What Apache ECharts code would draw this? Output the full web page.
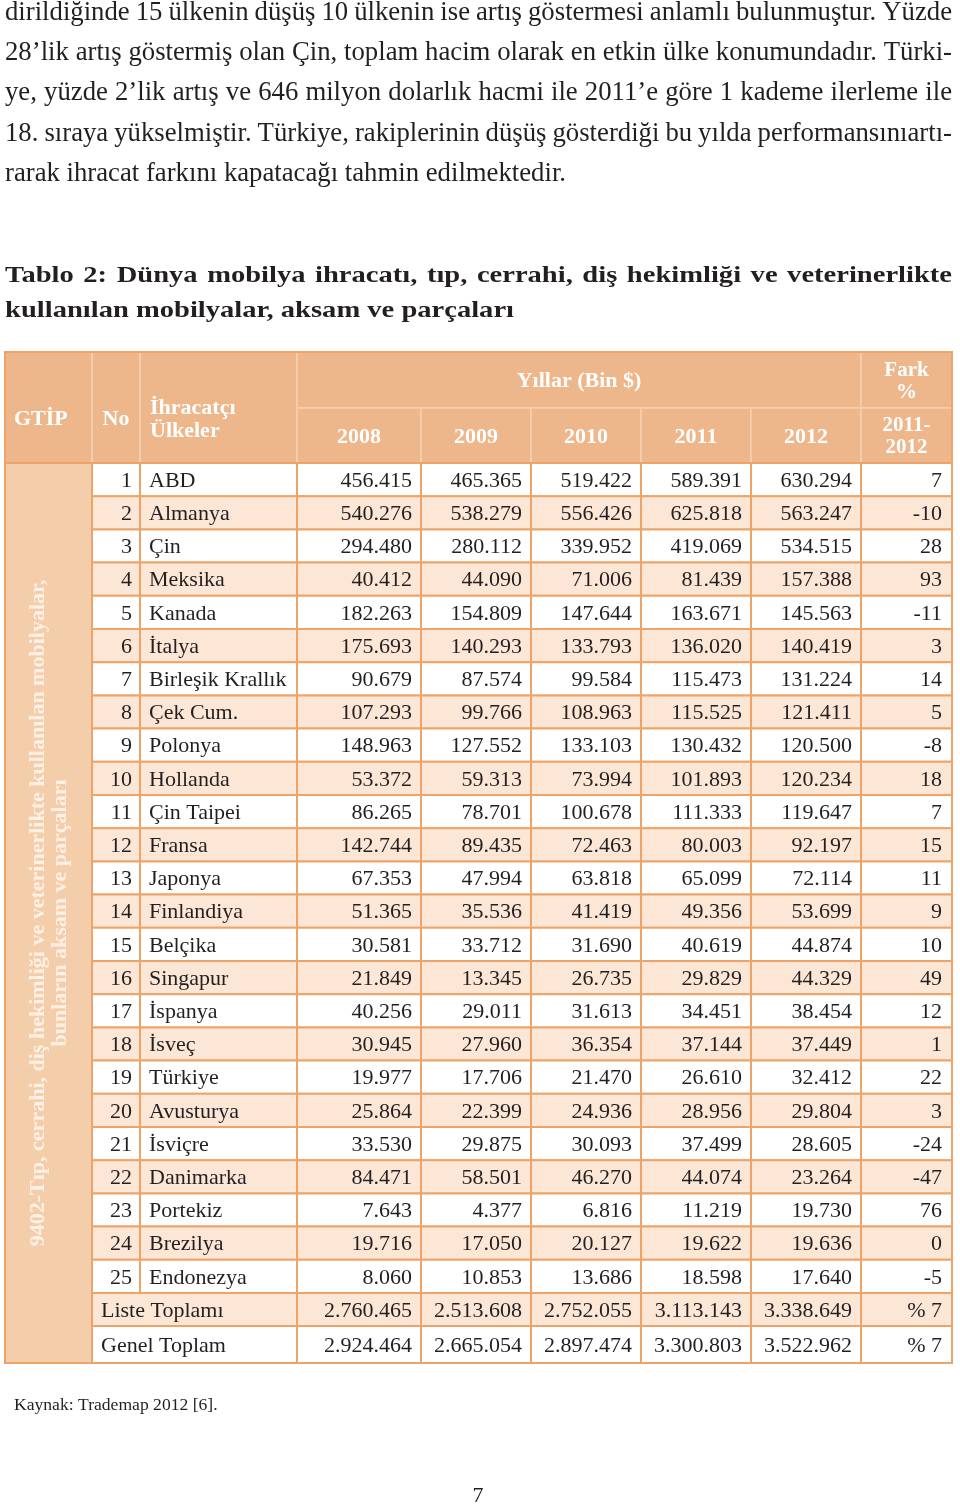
<!DOCTYPE html>
<html><head><meta charset="utf-8">
<script src="https://cdn.jsdelivr.net/npm/echarts@6/dist/echarts.min.js"></script>
<style>html,body{margin:0;padding:0;background:#fff}#c{width:960px;height:1507px}</style>
</head><body><div id="c"></div>
<script>
// ---------------- DATA ----------------
const countries = ['ABD','Almanya','Çin','Meksika','Kanada','İtalya','Birleşik Krallık','Çek Cum.','Polonya','Hollanda','Çin Taipei','Fransa','Japonya','Finlandiya','Belçika','Singapur','İspanya','İsveç','Türkiye','Avusturya','İsviçre','Danimarka','Portekiz','Brezilya','Endonezya'];
const years = ['2008','2009','2010','2011','2012'];
const v2008 = [456415,540276,294480,40412,182263,175693,90679,107293,148963,53372,86265,142744,67353,51365,30581,21849,40256,30945,19977,25864,33530,84471,7643,19716,8060];
const v2009 = [465365,538279,280112,44090,154809,140293,87574,99766,127552,59313,78701,89435,47994,35536,33712,13345,29011,27960,17706,22399,29875,58501,4377,17050,10853];
const v2010 = [519422,556426,339952,71006,147644,133793,99584,108963,133103,73994,100678,72463,63818,41419,31690,26735,31613,36354,21470,24936,30093,46270,6816,20127,13686];
const v2011 = [589391,625818,419069,81439,163671,136020,115473,115525,130432,101893,111333,80003,65099,49356,40619,29829,34451,37144,26610,28956,37499,44074,11219,19622,18598];
const v2012 = [630294,563247,534515,157388,145563,140419,131224,121411,120500,120234,119647,92197,72114,53699,44874,44329,38454,37449,32412,29804,28605,23264,19730,19636,17640];
const fark = [7,-10,28,93,-11,3,14,5,-8,18,7,15,11,9,10,49,12,1,22,3,-24,-47,76,0,-5];
const listeToplami = [2760465,2513608,2752055,3113143,3338649];
const listeFark = '% 7';
const genelToplam = [2924464,2665054,2897474,3300803,3522962];
const genelFark = '% 7';
const headerLabels = {gtip:'GTİP', no:'No', country:'İhracatçı\nÜlkeler', years:'Yıllar (Bin $)', fark:'Fark\n%', farkYears:'2011-\n2012'};
const gtipText = '9402-Tıp, cerrahi, diş hekimliği ve veterinerlikte kullanılan mobilyalar,\nbunların aksam ve parçaları';
const rowLabels = ['Liste Toplamı','Genel Toplam'];
const paragraphLines = [
 'dirildiğinde 15 ülkenin düşüş 10 ülkenin ise artış göstermesi anlamlı bulunmuştur. Yüzde',
 '28’lik artış göstermiş olan Çin, toplam hacim olarak en etkin ülke konumundadır. Türki-',
 'ye, yüzde 2’lik artış ve 646 milyon dolarlık hacmi ile 2011’e göre 1 kademe ilerleme ile',
 '18. sıraya yükselmiştir. Türkiye, rakiplerinin düşüş gösterdiği bu yılda performansınıartı-',
 'rarak ihracat farkını kapatacağı tahmin edilmektedir.'
];
const titleLines = [
 'Tablo 2: Dünya mobilya ihracatı, tıp, cerrahi, diş hekimliği ve veterinerlikte',
 'kullanılan mobilyalar, aksam ve parçaları'
];
const sourceText = 'Kaynak: Trademap 2012 [6].';
const pageNumber = '7';

// ---------------- LAYOUT / STYLE ----------------
const colW = [87,48,157,124,110,110,110,110,91];
const colX = [0]; colW.forEach((w,i)=>colX.push(colX[i]+w));
const H1 = 56, H2 = 55, RH = 33.2, LH = 33, GH = 37;
const bodyTop = H1 + H2;
const listeTop = bodyTop + RH*countries.length;
const genelTop = listeTop + LH;
const totalH = genelTop + GH;
const TOTW = colX[colX.length-1];

const C = {head:'#eeb78b', gtip:'#f4cdab', even:'#fce6d6', white:'#ffffff', line:'#eea469', headLine:'#f6cfb0', text:'#231f20'};
const SERIF = '"Liberation Serif","Times New Roman",serif';
const fBody = '22px ' + SERIF, fHead = 'bold 22px ' + SERIF, fHeadS = 'bold 21px ' + SERIF;

function fmt(n){ return String(n).replace(/\B(?=(\d{3})+(?!\d))/g,'.'); }

const cells = [];
function cell(c0,c1,y0,y1,o){ cells.push(Object.assign({x0:colX[c0],x1:colX[c1+1],y0:y0,y1:y1},o)); }

// header
const hs = {fill:C.head, stroke:C.headLine, lw:1.5, color:'#fff'};
cell(0,0,0,bodyTop,Object.assign({text:headerLabels.gtip,font:fHead,align:'left',pad:9,dy:12},hs));
cell(1,1,0,bodyTop,Object.assign({text:headerLabels.no,font:fHead,align:'center',dy:12},hs));
cell(2,2,0,bodyTop,Object.assign({text:headerLabels.country,font:fHead,align:'left',pad:10,dy:12,lh:23},hs));
cell(3,7,0,H1,Object.assign({text:headerLabels.years,font:fHead,align:'center',dy:1.5},hs));
years.forEach((y,i)=>cell(3+i,3+i,H1,bodyTop,Object.assign({text:y,font:fHead,align:'center',dy:1.5},hs)));
cell(8,8,0,H1,Object.assign({text:headerLabels.fark,font:fHeadS,align:'center',dy:1.5,lh:22},hs));
cell(8,8,H1,bodyTop,Object.assign({text:headerLabels.farkYears,font:fHeadS,align:'center',dy:1.5,lh:22},hs));

// GTIP body
cell(0,0,bodyTop,totalH,{fill:C.gtip,stroke:C.line,lw:2,text:gtipText,font:'bold 22px '+SERIF,color:'#fdf1e6',align:'center',rot:Math.PI/2,lh:22,dx:1});

// rows
const series = [v2008,v2009,v2010,v2011,v2012];
countries.forEach((name,i)=>{
  const y0 = bodyTop + i*RH, y1 = y0 + RH;
  const fill = i%2 ? C.even : C.white;
  const b = {fill:fill, stroke:C.line, lw:2, font:fBody, color:C.text, dy:1.5};
  cell(1,1,y0,y1,Object.assign({text:String(i+1),align:'right',pad:8},b));
  cell(2,2,y0,y1,Object.assign({text:name,align:'left',pad:9},b));
  series.forEach((arr,k)=>cell(3+k,3+k,y0,y1,Object.assign({text:fmt(arr[i]),align:'right',pad:9},b)));
  cell(8,8,y0,y1,Object.assign({text:String(fark[i]),align:'right',pad:10},b));
});
[[listeTop,listeTop+LH,C.even,rowLabels[0],listeToplami,listeFark],[genelTop,totalH,C.white,rowLabels[1],genelToplam,genelFark]].forEach(r=>{
  const b = {fill:r[2], stroke:C.line, lw:2, font:fBody, color:C.text, dy:1.5};
  cell(1,2,r[0],r[1],Object.assign({text:r[3],align:'left',pad:9},b));
  r[4].forEach((v,k)=>cell(3+k,3+k,r[0],r[1],Object.assign({text:fmt(v),align:'right',pad:9},b)));
  cell(8,8,r[0],r[1],Object.assign({text:r[5],align:'right',pad:10},b));
});
// outer frame
cell(0,8,0,totalH,{fill:null,stroke:C.line,lw:2,text:''});

// ---------------- TEXT (paragraph / title) ----------------
const mctx = document.createElement('canvas').getContext('2d');
function measure(t,font){ mctx.font = font; return mctx.measureText(t).width; }
const graphics = [];
function justifiedLine(text, font, yc, sx, justify, left, width, color){
  const words = text.split(' ');
  const ws = words.map(w=>measure(w,font)*sx);
  const sum = ws.reduce((a,b)=>a+b,0);
  const gap = justify && words.length>1 ? (width-sum)/(words.length-1) : measure(' ',font)*sx;
  let x = left;
  words.forEach((w,i)=>{
    graphics.push({type:'text', x:x, y:yc, scaleX:sx, style:{text:w, font:font, fill:color, align:'left', verticalAlign:'middle'}});
    x += ws[i] + gap;
  });
}
const pFont = '27px ' + SERIF;
const pScale = 561 / measure(paragraphLines[4], pFont);
const pY = [13,53,93,134,174];
paragraphLines.forEach((l,i)=>justifiedLine(l,pFont,pY[i],pScale,i<4,5,947,C.text));
const tFont = 'bold 24px ' + SERIF;
const tScale = 509 / measure(titleLines[1], tFont);
justifiedLine(titleLines[0],tFont,276,tScale,true,5,947,C.text);
justifiedLine(titleLines[1],tFont,311,tScale,false,5,947,C.text);
graphics.push({type:'text', x:14, y:1405, style:{text:sourceText, font:'17.6px '+SERIF, fill:C.text, align:'left', verticalAlign:'middle'}});
graphics.push({type:'text', x:478, y:1496, style:{text:pageNumber, font:'22px '+SERIF, fill:C.text, align:'center', verticalAlign:'middle'}});

// ---------------- CHART ----------------
const chart = echarts.init(document.getElementById('c'), null, {renderer:'canvas'});
chart.setOption({
  animation:false,
  grid:{left:5, right:960-5-TOTW, top:352, height:totalH, containLabel:false},
  xAxis:{type:'value', min:0, max:TOTW, show:false},
  yAxis:{type:'value', min:0, max:totalH, inverse:true, show:false},
  graphic:graphics,
  series:[{
    type:'custom', coordinateSystem:'cartesian2d', clip:false,
    data: cells.map(c=>[c.x0,c.x1,c.y0,c.y1]),
    encode:{x:[0,1], y:[2,3]},
    renderItem:function(params, api){
      const c = cells[params.dataIndex];
      const p0 = api.coord([api.value(0), api.value(2)]);
      const p1 = api.coord([api.value(1), api.value(3)]);
      const x = p0[0], y = Math.min(p0[1],p1[1]), w = p1[0]-p0[0], h = Math.abs(p1[1]-p0[1]);
      const children = [{type:'rect', shape:{x:x,y:y,width:w,height:h},
        style:{fill:c.fill||'none', stroke:c.stroke, lineWidth:c.lw}}];
      if (c.text){
        let tx = x + w/2 + (c.dx||0);
        if (c.align==='left') tx = x + (c.pad||0);
        if (c.align==='right') tx = x + w - (c.pad||0);
        const t = {type:'text', x:tx, y:y+h/2+(c.dy||0),
          style:{text:c.text, font:c.font, fill:c.color, align:c.align, verticalAlign:'middle',
                 textAlign:c.align, textVerticalAlign:'middle', lineHeight:c.lh||undefined}};
        if (c.rot) t.rotation = c.rot;
        children.push(t);
      }
      return {type:'group', children:children};
    }
  }]
});
</script></body></html>
